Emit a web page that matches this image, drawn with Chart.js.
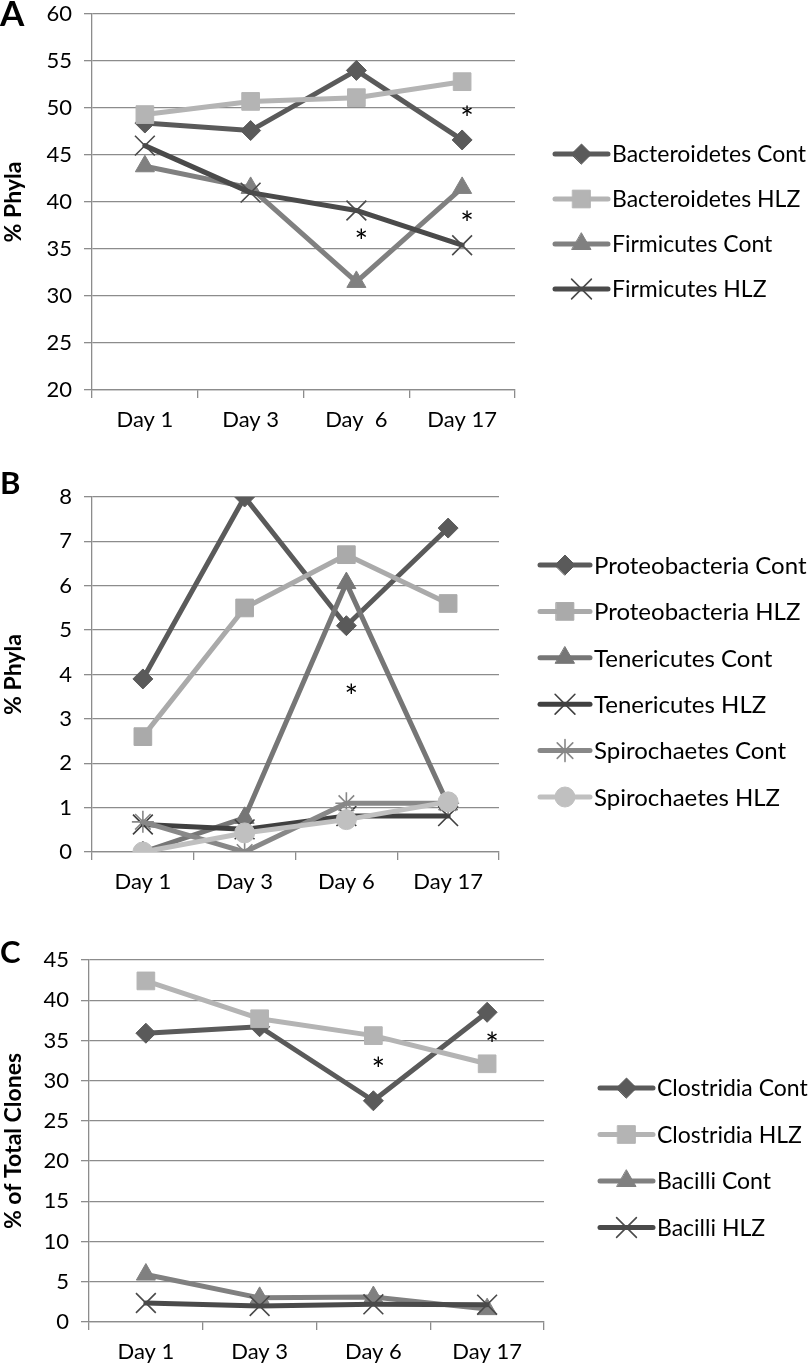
<!DOCTYPE html>
<html>
<head>
<meta charset="utf-8">
<script src="https://cdn.jsdelivr.net/npm/chart.js@4.4.1/dist/chart.umd.min.js"></script>
<style>
  body { margin: 0; background: #fff; width: 810px; height: 1365px; position: relative; overflow: hidden; font-family: Lato, sans-serif; }
  canvas { position: absolute; left: 0; }
  .tag { position: absolute; left: 0; font-weight: bold; line-height: 1; color: #000; }
</style>
</head>
<body>
<canvas id="chartA" width="810" height="465" style="top:-15px"></canvas>
<canvas id="chartB" width="810" height="450" style="top:450px"></canvas>
<canvas id="chartC" width="810" height="470" style="top:895px"></canvas>
<div class="tag" style="top:-5px;font-size:35px">A</div>
<div class="tag" style="top:467px;font-size:31px">B</div>
<div class="tag" style="top:936px;font-size:31px">C</div>
<script>
// categories
const daysA = ['Day 1', 'Day 3', 'Day  6', 'Day 17'];
const days = ['Day 1', 'Day 3', 'Day 6', 'Day 17'];

// panel A - % phyla
const bacteroidetesCont = [48.4, 47.6, 54.0, 46.6];
const bacteroidetesHLZ = [49.3, 50.7, 51.1, 52.8];
const firmicutesCont = [43.8, 41.5, 31.5, 41.5];
const firmicutesHLZ = [46.0, 41.0, 39.1, 35.4];
const yTicksA = [20, 60, 5];
const starsA = [[2, 36.5], [3, 49.6], [3, 38.4]];

// panel B - minor phyla
const proteobacteriaCont = [3.9, 8.0, 5.1, 7.3];
const proteobacteriaHLZ = [2.6, 5.5, 6.7, 5.6];
const tenericutesCont = [0, 0.77, 6.06, 1.07];
const tenericutesHLZ = [0.62, 0.51, 0.81, 0.81];
const spirochaetesCont = [0.68, 0, 1.1, 1.1];
const spirochaetesHLZ = [0, 0.43, 0.73, 1.13];
const yTicksB = [0, 8, 1];
const starsB = [[2, 3.65]];

// panel C - % of total clones
const clostridiaCont = [35.9, 36.7, 27.5, 38.5];
const clostridiaHLZ = [42.4, 37.7, 35.6, 32.1];
const bacilliCont = [5.9, 3.0, 3.1, 1.6];
const bacilliHLZ = [2.36, 2.0, 2.2, 2.15];
const yTicksC = [0, 45, 5];
const starsC = [[2, 32.2], [3, 35.3]];

const AXIS = '#8c8c8c';
Chart.defaults.font.family = 'Lato, sans-serif';

function series(label, data, color, pointStyle, radius, i) {
  const thin = pointStyle === 'crossRot' || pointStyle === 'star';
  return {
    label: label,
    data: data,
    borderColor: color,
    backgroundColor: color,
    borderWidth: 5,
    borderJoinStyle: 'round',
    borderCapStyle: 'round',
    pointStyle: pointStyle,
    pointRadius: radius,
    pointBorderWidth: thin ? 1.6 : 1,
    pointBackgroundColor: color,
    pointBorderColor: color,
    tension: 0,
    order: -i   // later series drawn on top, like the original
  };
}

// legend on the right: line segment with marker, then label
const sideLegend = {
  id: 'sideLegend',
  afterDraw(chart, args, opts) {
    const ctx = chart.ctx;
    ctx.save();
    chart.data.datasets.forEach((ds, i) => {
      const y = opts.y + i * opts.gap;
      ctx.strokeStyle = ds.borderColor;
      ctx.lineWidth = ds.borderWidth;
      ctx.lineCap = 'round';
      ctx.beginPath();
      ctx.moveTo(opts.x, y);
      ctx.lineTo(opts.x + opts.len, y);
      ctx.stroke();
      ctx.fillStyle = ds.pointBackgroundColor;
      ctx.strokeStyle = ds.pointBorderColor;
      ctx.lineWidth = ds.pointBorderWidth;
      Chart.helpers.drawPoint(ctx, {
        pointStyle: ds.pointStyle, radius: ds.pointRadius,
        borderWidth: ds.pointBorderWidth, rotation: 0
      }, opts.x + opts.len / 2, y);
      ctx.fillStyle = '#000';
      ctx.font = opts.size + 'px Lato, sans-serif';
      ctx.textBaseline = 'middle';
      ctx.textAlign = 'left';
      ctx.fillText(ds.label, opts.x + opts.len + 4, y + 1);
    });
    ctx.restore();
  }
};

// significance asterisks
const stars = {
  id: 'stars',
  afterDatasetsDraw(chart, args, opts) {
    const {ctx, scales: {x, y}} = chart;
    ctx.save();
    ctx.fillStyle = '#000';
    ctx.font = '32px Lato, sans-serif';
    ctx.textAlign = 'center';
    ctx.textBaseline = 'middle';
    opts.marks.forEach(m => {
      ctx.fillText('*', x.getPixelForValue(m[0]) + 5, y.getPixelForValue(m[1]) + 8);
    });
    ctx.restore();
  }
};

function makeChart(id, cfg) {
  return new Chart(document.getElementById(id), {
    type: 'line',
    data: { labels: cfg.labels, datasets: cfg.datasets },
    options: {
      responsive: false,
      animation: false,
      layout: { padding: { top: cfg.area.top, right: 810 - cfg.area.right, left: 0, bottom: 0 } },
      plugins: {
        legend: { display: false },
        tooltip: { enabled: false },
        sideLegend: cfg.legend,
        stars: { marks: cfg.stars }
      },
      scales: {
        x: {
          offset: true,
          grid: { offset: true, drawOnChartArea: false, color: AXIS, tickLength: 8, lineWidth: 1.3 },
          border: { color: AXIS, width: 1.3 },
          ticks: { color: '#000', font: { size: 22 }, padding: 9, maxRotation: 0, autoSkip: false },
          afterFit: s => { s.height = cfg.height - cfg.area.bottom; }
        },
        y: {
          min: cfg.yTicks[0],
          max: cfg.yTicks[1],
          ticks: { stepSize: cfg.yTicks[2], color: '#000', font: { size: 22 }, padding: 12 },
          grid: { color: AXIS, tickLength: 8, lineWidth: 1.3 },
          border: { color: AXIS, width: 1.3 },
          title: {
            display: true, text: cfg.yTitle, color: '#000',
            font: { size: 23, weight: 'bold' }, padding: { top: 0, bottom: 0 }
          },
          afterFit: s => { s.width = cfg.area.left; }
        }
      }
    },
    plugins: [sideLegend, stars]
  });
}

makeChart('chartA', {
  labels: daysA,
  height: 465,
  area: { left: 92, right: 515, top: 29, bottom: 405 },
  yTicks: yTicksA,
  yTitle: '% Phyla',
  stars: starsA,
  legend: { x: 555, y: 169, gap: 45, len: 53, size: 23 },
  datasets: [
    series('Bacteroidetes Cont', bacteroidetesCont, '#5a5a5a', 'rectRot', 10, 0),
    series('Bacteroidetes HLZ', bacteroidetesHLZ, '#b4b4b4', 'rect', 12.5, 1),
    series('Firmicutes Cont', firmicutesCont, '#808080', 'triangle', 11, 2),
    series('Firmicutes HLZ', firmicutesHLZ, '#4a4a4a', 'crossRot', 14, 3)
  ]
});

makeChart('chartB', {
  labels: days,
  height: 450,
  area: { left: 92, right: 499, top: 47, bottom: 402 },
  yTicks: yTicksB,
  yTitle: '% Phyla',
  stars: starsB,
  legend: { x: 540, y: 115, gap: 46.4, len: 50, size: 24 },
  datasets: [
    series('Proteobacteria Cont', proteobacteriaCont, '#5a5a5a', 'rectRot', 10, 0),
    series('Proteobacteria HLZ', proteobacteriaHLZ, '#aaaaaa', 'rect', 12.5, 1),
    series('Tenericutes Cont', tenericutesCont, '#767676', 'triangle', 11, 2),
    series('Tenericutes HLZ', tenericutesHLZ, '#404040', 'crossRot', 14, 3),
    series('Spirochaetes Cont', spirochaetesCont, '#888888', 'star', 11, 4),
    series('Spirochaetes HLZ', spirochaetesHLZ, '#c0c0c0', 'circle', 10, 5)
  ]
});

makeChart('chartC', {
  labels: days,
  height: 470,
  area: { left: 89, right: 544, top: 65, bottom: 427 },
  yTicks: yTicksC,
  yTitle: '% of Total Clones',
  stars: starsC,
  legend: { x: 600, y: 193, gap: 46.5, len: 53, size: 23 },
  datasets: [
    series('Clostridia Cont', clostridiaCont, '#5a5a5a', 'rectRot', 10, 0),
    series('Clostridia HLZ', clostridiaHLZ, '#b4b4b4', 'rect', 12.5, 1),
    series('Bacilli Cont', bacilliCont, '#808080', 'triangle', 11, 2),
    series('Bacilli HLZ', bacilliHLZ, '#4a4a4a', 'crossRot', 14, 3)
  ]
});
</script>
</body>
</html>
